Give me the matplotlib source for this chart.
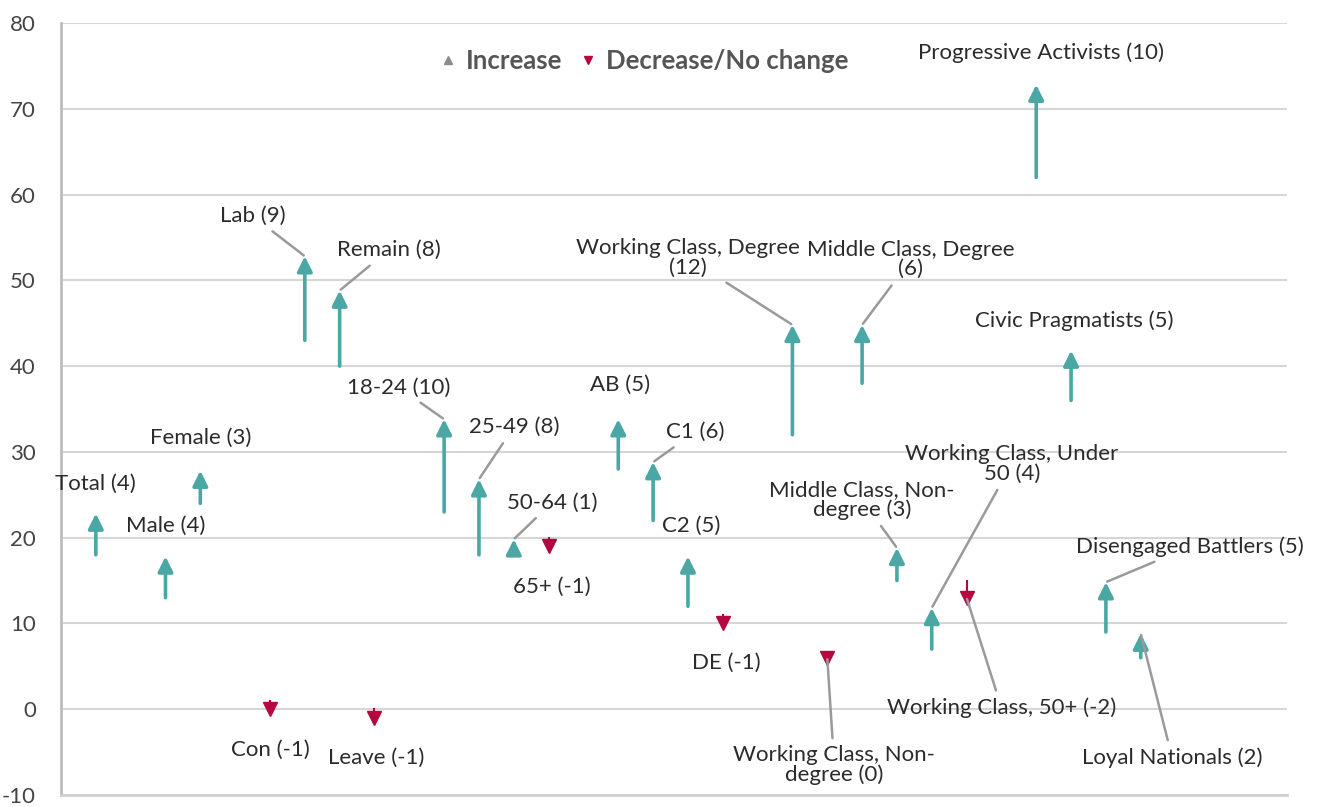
import matplotlib.pyplot as plt
from matplotlib.lines import Line2D
from matplotlib.transforms import ScaledTranslation

plt.rcParams['font.family'] = ['Lato', 'DejaVu Sans']
plt.rcParams['axes.unicode_minus'] = False

# Groups, their slot on the x axis, and the value before / after
groups = ["Total (4)", "Male (4)", "Female (3)", "Con (-1)", "Lab (9)", "Remain (8)", "Leave (-1)",
          "18-24 (10)", "25-49 (8)", "50-64 (1)", "65+ (-1)",
          "AB (5)", "C1 (6)", "C2 (5)", "DE (-1)",
          "Working Class, Degree\n(12)", "Working Class, Non-\ndegree (0)", "Middle Class, Degree\n(6)",
          "Middle Class, Non-\ndegree (3)", "Working Class, Under\n50 (4)", "Working Class, 50+ (-2)",
          "Progressive Activists (10)", "Civic Pragmatists (5)", "Disengaged Battlers (5)", "Loyal Nationals (2)"]
slots = [1, 3, 4, 6, 7, 8, 9, 11, 12, 13, 14, 16, 17, 18, 19, 21, 22, 23, 24, 25, 26, 28, 29, 30, 31]
before = [18, 13, 24, 1, 43, 40, 0, 23, 18, 18, 20, 28, 22, 12, 11, 32, 6, 38, 15, 7, 15, 62, 36, 9, 6]
after = [22, 17, 27, 0, 52, 48, -1, 33, 26, 19, 19, 33, 28, 17, 10, 44, 6, 44, 18, 11, 13, 72, 41, 14, 8]

# label placement (data coords) and whether a leader line is drawn
label_pos = [(1.0, 26.3), (3.0, 21.4), (4.0, 31.6), (6.0, -4.7), (5.5, 57.5), (9.4, 53.5), (9.05, -5.7),
             (9.7, 37.5), (13.0, 32.9), (14.1, 24.1), (14.1, 14.3),
             (16.05, 37.8), (18.2, 32.3), (18.1, 21.4), (19.1, 5.4),
             (18.0, 52.6), (22.2, -6.5), (24.4, 52.4),
             (23.0, 24.4), (27.3, 28.6), (27.0, 0.2),
             (28.15, 76.5), (29.1, 45.3), (32.4, 18.9), (31.9, -5.6)]
leader = [False, False, False, False, True, True, False, True, True, True, False,
          False, True, False, False, True, True, True, True, True, True,
          False, False, True, True]

teal = "#4ba7a4"
crimson = "#b5073f"
grey_line = "#9a9a9a"
text_col = "#2b2b2b"

fig = plt.figure(figsize=(13.26, 8.07), dpi=100)
ax = fig.add_axes([0.046, 0.0149, 0.9246, 0.9566])

# arrow heads sit a little past the end value, as in Excel error-bar arrows
tip = ax.transData + ScaledTranslation(0, 5 / 72, fig.dpi_scale_trans)

for i, name in enumerate(groups):
    x = slots[i]
    up = after[i] > before[i]
    if up:
        ax.annotate("", xy=(x, after[i]), xycoords=tip, xytext=(x, before[i]), textcoords="data",
                    arrowprops=dict(arrowstyle="-|>,head_length=0.9,head_width=0.45",
                                    color=teal, lw=2.6, shrinkA=0, shrinkB=0), zorder=3)
    else:
        ax.plot([x, x], [before[i], after[i]], color=crimson, lw=1.5, zorder=3)
        ax.plot(x, after[i], marker="v", color=crimson, markersize=10, zorder=4)

    lx, ly = label_pos[i]
    if leader[i]:
        ax.annotate(name, xy=(x, after[i]), xycoords=tip if up else "data",
                    xytext=(lx, ly), textcoords="data", ha="center", va="center",
                    fontsize=16, color=text_col, linespacing=0.95,
                    arrowprops=dict(arrowstyle="-", color=grey_line, lw=1.8,
                                    shrinkA=3, shrinkB=1), zorder=5)
    else:
        ax.text(lx, ly, name, ha="center", va="center", fontsize=16,
                color=text_col, linespacing=0.95, zorder=5)

ax.set_xlim(0, 35.2)
ax.set_ylim(-10, 80)
ax.set_yticks(range(-10, 81, 10))
ax.set_xticks([])
ax.grid(axis="y", color="#d6d6d6", lw=1.5)
ax.set_axisbelow(True)
for s in ["top", "right"]:
    ax.spines[s].set_visible(False)
ax.spines["left"].set_color("#bdbdbd")
ax.spines["left"].set_linewidth(2)
ax.spines["bottom"].set_color("#d0d0d0")
ax.spines["bottom"].set_linewidth(2)
ax.tick_params(axis="y", length=0, pad=18, labelsize=16, labelcolor="#444444")

handles = [Line2D([], [], ls="none", marker="^", color="#8c8c8c", markersize=6),
           Line2D([], [], ls="none", marker="v", color=crimson, markersize=6)]
leg = ax.legend(handles, ["Increase", "Decrease/No change"], loc="center",
                bbox_to_anchor=(0.476, 0.951), ncol=2, frameon=False,
                handlelength=0.6, handletextpad=0.4, columnspacing=0.7,
                prop={"weight": "bold", "size": 18.5})
for t in leg.get_texts():
    t.set_color("#555555")

plt.savefig("out.png", dpi=100)
